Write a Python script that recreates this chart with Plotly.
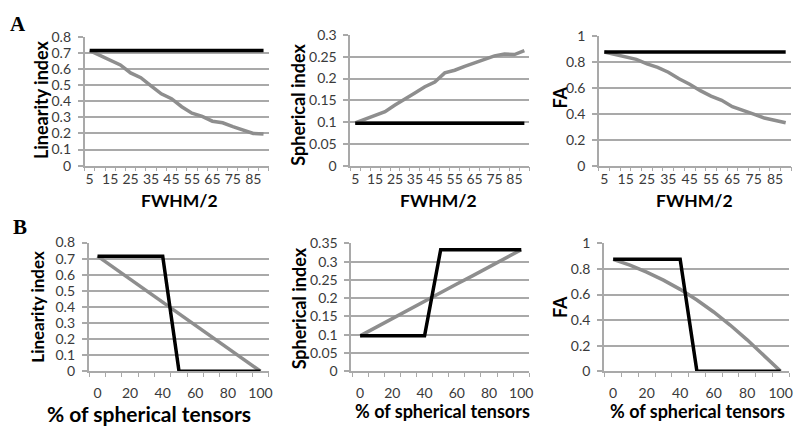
import plotly.graph_objects as go

W, H = 799, 435

# ---------------- data ----------------
fwhm_half = [5, 10, 15, 20, 25, 30, 35, 40, 45, 50, 55, 60, 65, 70, 75, 80, 85, 90]
pct_spherical = [0, 10, 20, 30, 40, 50, 60, 70, 80, 90, 100]

# Panel A (vs FWHM/2)
lin_A_black = [0.715, 0.715, 0.715, 0.715, 0.715, 0.715, 0.715, 0.715, 0.715,
               0.715, 0.715, 0.715, 0.715, 0.715, 0.715, 0.715, 0.715, 0.715]
lin_A_gray = [0.715, 0.686, 0.656, 0.626, 0.576, 0.546, 0.496, 0.446, 0.416,
              0.366, 0.326, 0.306, 0.276, 0.266, 0.242, 0.220, 0.200, 0.196]
sph_A_black = [0.097, 0.097, 0.097, 0.097, 0.097, 0.097, 0.097, 0.097, 0.097,
               0.097, 0.097, 0.097, 0.097, 0.097, 0.097, 0.097, 0.097, 0.097]
sph_A_gray = [0.098, 0.106, 0.115, 0.124, 0.139, 0.152, 0.167, 0.181, 0.192,
              0.213, 0.219, 0.228, 0.236, 0.245, 0.252, 0.256, 0.255, 0.264]
fa_A_black = [0.876, 0.876, 0.876, 0.876, 0.876, 0.876, 0.876, 0.876, 0.876,
              0.876, 0.876, 0.876, 0.876, 0.876, 0.876, 0.876, 0.876, 0.876]
fa_A_gray = [0.876, 0.856, 0.839, 0.819, 0.784, 0.757, 0.720, 0.670, 0.628,
             0.578, 0.536, 0.504, 0.454, 0.429, 0.397, 0.367, 0.347, 0.330]

# Panel B (vs % of spherical tensors)
lin_B_black = [0.715, 0.715, 0.715, 0.715, 0.715, 0, 0, 0, 0, 0, 0]
lin_B_gray = [0.715, 0.644, 0.572, 0.500, 0.429, 0.358, 0.286, 0.215, 0.143, 0.072, 0]
sph_B_black = [0.097, 0.097, 0.097, 0.097, 0.097, 0.333, 0.333, 0.333, 0.333, 0.333, 0.333]
sph_B_gray = [0.097, 0.121, 0.144, 0.168, 0.191, 0.215, 0.239, 0.262, 0.286, 0.309, 0.333]
fa_B_black = [0.876, 0.876, 0.876, 0.876, 0.876, 0, 0, 0, 0, 0, 0]
fa_B_gray = [0.876, 0.830, 0.776, 0.713, 0.641, 0.558, 0.464, 0.360, 0.246, 0.125, 0]

y_titles = ["Linearity index", "Spherical index", "FA"]
xA_title = "FWHM/2"
xB_title = "% of spherical tensors"

# ---------------- style ----------------
GRID = "#a9a9a9"
GRAY = "#8e8e8e"
BLACK = "#000000"
TICKC = "#3a3a3a"
FONT = "Lato"

# panel pixel boxes: (x0, x1, ytop, ybottom)
boxes = [
    (85, 270, 29, 163), (352, 532, 27, 163), (602, 795, 28, 163),
    (89, 270, 243, 377), (353, 532, 244, 377), (607, 793, 244, 377),
]
yranges = [0.8, 0.3, 1.0, 0.8, 0.35, 1.0]
ydticks = [0.1, 0.05, 0.2, 0.1, 0.05, 0.2]
series = [
    (fwhm_half, lin_A_gray, lin_A_black),
    (fwhm_half, sph_A_gray, sph_A_black),
    (fwhm_half, fa_A_gray, fa_A_black),
    (pct_spherical, lin_B_gray, lin_B_black),
    (pct_spherical, sph_B_gray, sph_B_black),
    (pct_spherical, fa_B_gray, fa_B_black),
]

fig = go.Figure()
layout = {}
for i, (box, ymax, dy, (xs, g, b)) in enumerate(zip(boxes, yranges, ydticks, series)):
    n = "" if i == 0 else str(i + 1)
    x0, x1, yt, yb = box
    top = i < 3
    fs = 14
    fig.add_trace(go.Scatter(x=xs, y=g, mode="lines", line=dict(color=GRAY, width=3.5),
                             xaxis="x" + n, yaxis="y" + n, showlegend=False, hoverinfo="skip"))
    fig.add_trace(go.Scatter(x=xs, y=b, mode="lines", line=dict(color=BLACK, width=3.5),
                             xaxis="x" + n, yaxis="y" + n, showlegend=False, hoverinfo="skip"))
    if top:
        xr = [2.5, 92.5]
        t0, dt, m0, mdt = 5, 10, 2.5, 5
        stand = 0
    else:
        xr = [-5.5, 105]
        t0, dt, m0, mdt = 0, 20, -5, 10
        stand = 8
    layout["xaxis" + n] = dict(
        domain=[x0 / W, x1 / W], range=xr, anchor="y" + n,
        showgrid=False, zeroline=False, showline=True, linecolor=GRID, linewidth=1.5,
        tickmode="linear", tick0=t0, dtick=dt, ticks="", ticklen=0,
        ticklabelstandoff=stand,
        minor=dict(tickmode="linear", tick0=m0, dtick=mdt, ticks="outside",
                   ticklen=4, tickcolor=GRID, tickwidth=1.2, showgrid=False),
        tickfont=dict(family=FONT, size=fs, color=TICKC), fixedrange=True,
    )
    layout["yaxis" + n] = dict(
        domain=[1 - yb / H, 1 - yt / H], range=[0, ymax], anchor="x" + n,
        tickmode="linear", tick0=0, dtick=dy,
        showgrid=True, gridcolor=GRID, gridwidth=1.5, zeroline=False,
        showline=True, linecolor=GRID, linewidth=1.5,
        ticks="outside", ticklen=5, tickcolor=GRID, tickwidth=1.5,
        ticklabelstandoff=4,
        tickfont=dict(family=FONT, size=fs, color=TICKC), fixedrange=True,
    )

annotations = []

def ann(text, x, y, size, angle=0, family=FONT, color="#000000"):
    annotations.append(dict(text=text, x=x / W, y=1 - y / H, xref="paper", yref="paper",
                            showarrow=False, textangle=angle, xanchor="center", yanchor="middle",
                            font=dict(family=family, size=size, color=color)))

# y titles
ann("<b>%s</b>" % y_titles[0], 42, 94, 18, -90)
ann("<b>%s</b>" % y_titles[1], 300, 99, 18, -90)
ann("<b>%s</b>" % y_titles[2], 563, 92, 18, -90)
ann("<b>%s</b>" % y_titles[0], 38, 310, 17, -90)
ann("<b>%s</b>" % y_titles[1], 300, 311, 18, -90)
ann("<b>%s</b>" % y_titles[2], 563, 310, 18, -90)
# x titles
ann("<b>%s</b>" % xA_title, 180, 199.5, 17.5)
ann("<b>%s</b>" % xA_title, 441, 199.5, 17.5)
ann("<b>%s</b>" % xA_title, 698, 199.5, 17.5)
ann("<b>%s</b>" % xB_title, 150, 421, 21)
ann("<b>%s</b>" % xB_title, 445, 418, 18)
ann("<b>%s</b>" % xB_title, 701, 418, 18)
# panel letters
ann("<b>A</b>", 18, 16, 21, family="Liberation Serif")
ann("<b>B</b>", 20, 227, 21, family="Liberation Serif")

fig.update_layout(
    width=W, height=H, margin=dict(l=0, r=0, t=0, b=0),
    paper_bgcolor="white", plot_bgcolor="white",
    annotations=annotations, showlegend=False,
    **layout,
)

fig.write_html(
    "out.html",
    config={"displayModeBar": False},
    post_script="document.body.style.margin='0';document.body.style.overflow='hidden';",
)
